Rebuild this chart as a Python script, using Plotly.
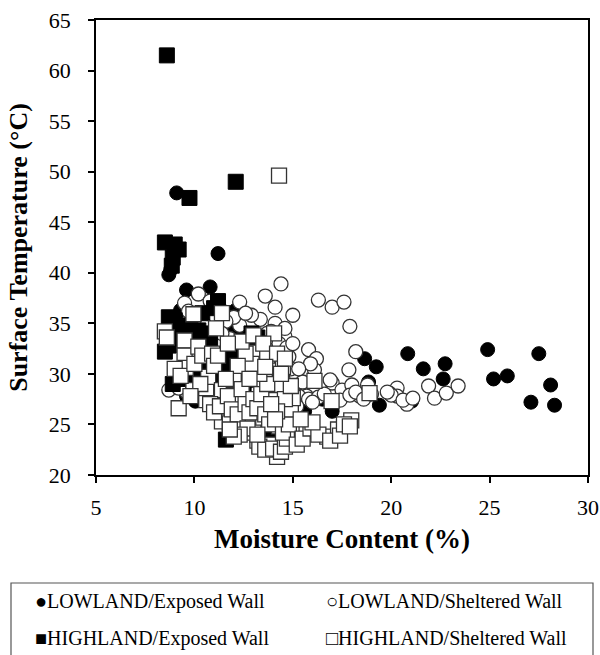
import plotly.graph_objects as go

# ---------------- data ----------------
low_exp_x = [9.1, 11.2, 8.7, 8.8, 9.6, 10.8, 9.3, 10.2, 11.6, 11.6,
             12.1, 12.3, 12.2, 11.9, 10.5, 9.0, 11.0, 11.7, 12.5, 13.0,
             9.8, 10.05, 9.6, 12.8, 13.5, 13.8, 14.4, 14.7, 14.8, 15.0,
             15.4, 13.4, 10.8, 11.3, 14.0, 15.6, 17.0, 16.5, 18.65, 18.85,
             19.24, 19.4, 20.84, 21.04, 21.63, 22.64, 22.74, 24.9, 25.2, 25.9,
             27.1, 27.5, 28.1, 28.3]
low_exp_y = [47.9, 41.9, 39.8, 40.3, 38.3, 38.6, 36.3, 36.0, 36.1, 34.5,
             36.3, 33.8, 34.8, 33.9, 35.2, 35.0, 31.0, 30.8, 31.0, 33.5,
             28.0, 27.3, 27.8, 28.5, 27.0, 29.0, 29.9, 30.5, 26.7, 26.6,
             26.2, 23.0, 29.5, 32.5, 32.0, 26.3, 26.3, 27.5, 31.5, 29.2,
             30.7, 26.9, 32.0, 27.3, 30.5, 29.5, 31.0, 32.4, 29.5, 29.8,
             27.2, 32.0, 28.9, 26.9]

low_she_x = [8.7, 9.5, 10.2, 10.8, 12.3, 13.6, 14.1, 14.4, 15.0, 13.35,
             12.3, 11.2, 10.9, 16.3, 17.0, 17.6, 17.9, 18.2, 15.8, 16.2,
             16.1, 17.85, 17.0, 17.5, 18.0, 20.3, 20.8, 21.9, 22.2, 22.8,
             23.4, 19.9, 20.3, 20.0, 19.8, 18.4, 15.7, 15.1, 14.8, 14.6,
             14.1, 13.0, 12.6, 13.7, 14.1, 13.9, 14.6, 14.3, 14.7, 14.9,
             14.5, 14.8, 15.3, 15.8, 16.3, 16.0, 17.4, 17.9, 18.2, 18.6,
             19.0, 16.6, 15.5, 15.9, 12.0, 11.6, 11.0, 10.5, 10.0, 9.7,
             10.3, 11.8, 12.7, 12.2, 11.5, 13.3, 13.0, 12.1, 10.6, 9.6,
             9.2, 13.6, 12.9, 13.7, 14.3, 15.2, 16.9, 20.6, 21.1, 18.8,
             11.4, 12.6, 14.2, 15.0, 15.3]
low_she_y = [28.4, 37.0, 37.9, 37.2, 37.1, 37.7, 36.6, 38.9, 35.8, 35.4,
             34.8, 32.9, 34.3, 37.3, 36.6, 37.1, 34.7, 32.2, 32.4, 31.5,
             30.4, 30.4, 29.1, 28.4, 28.9, 28.6, 27.0, 28.8, 27.6, 28.1,
             28.8, 28.1, 27.8, 27.9, 28.2, 27.8, 27.8, 28.8, 31.7, 33.7,
             32.4, 31.0, 29.4, 29.4, 35.0, 34.2, 34.5, 33.0, 32.6, 30.5,
             29.5, 28.5, 27.8, 27.5, 27.7, 27.2, 27.4, 27.9, 28.2, 27.5,
             28.0, 28.0, 29.2, 31.0, 35.6, 35.2, 35.8, 34.9, 35.4, 36.2,
             33.5, 33.5, 33.0, 32.0, 30.5, 30.0, 28.0, 27.5, 28.8, 28.2,
             28.6, 32.4, 35.8, 34.0, 30.2, 26.8, 29.4, 27.4, 27.6, 28.9,
             34.0, 36.0, 31.3, 33.0, 30.5]

high_exp_x = [8.6, 9.75, 12.1, 8.5, 9.0, 9.2, 8.9, 8.85, 11.2, 11.0,
              8.7, 9.0, 9.4, 9.8, 10.2, 10.5, 9.2, 8.5, 8.7, 9.6,
              10.0, 10.4, 9.8, 10.6, 8.9, 9.2, 9.9, 10.2, 11.5, 11.8,
              12.0, 11.2, 12.9, 13.2, 13.0, 11.6, 13.4, 10.0, 12.5, 13.8,
              9.5, 10.9, 12.2, 14.0, 13.2, 9.1, 8.8, 10.8, 12.1, 11.0,
              10.4, 12.4]
high_exp_y = [61.5, 47.4, 49.0, 43.0, 42.8, 42.3, 41.5, 40.7, 37.2, 36.5,
              35.6, 35.3, 34.8, 34.5, 34.3, 34.0, 33.5, 32.2, 32.8, 33.0,
              33.2, 32.0, 31.0, 31.5, 29.0, 29.5, 29.8, 30.5, 31.6, 30.8,
              31.0, 30.2, 34.0, 33.6, 32.5, 23.5, 33.0, 28.2, 28.5, 27.0,
              30.0, 30.0, 29.0, 24.0, 25.0, 34.0, 34.5, 33.5, 32.0, 29.0,
              36.0, 30.2]

high_she_x = [14.3, 8.5, 9.5, 9.5, 9.56, 9.2, 9.95, 10.2, 9.95, 10.6,
              10.6, 10.7, 11.4, 11.4, 11.4, 11.8, 12.0, 12.3, 12.5, 12.96,
              13.1, 13.2, 13.5, 13.7, 14.05, 14.5, 14.4, 14.05, 14.6, 13.9,
              14.2, 14.3, 15.7, 16.1, 16.75, 16.97, 17.3, 17.97, 18.9, 8.6,
              9.0, 9.3, 10.0, 10.4, 10.9, 11.0, 11.2, 10.8, 11.0, 11.3,
              11.7, 11.9, 12.2, 12.4, 12.6, 12.8, 13.0, 13.2, 13.4, 13.6,
              13.8, 13.0, 12.7, 12.3, 12.0, 11.8, 13.3, 13.6, 14.0, 14.4,
              14.6, 14.7, 14.5, 14.8, 14.9, 15.0, 14.6, 14.2, 13.9, 13.7,
              13.3, 12.9, 12.6, 12.4, 13.0, 13.5, 14.2, 14.6, 11.7, 11.1,
              12.2, 11.6, 10.3, 9.8, 15.2, 15.5, 15.9, 16.3, 16.9, 17.4,
              17.6, 17.9, 14.9, 14.4, 13.6, 12.8, 16.0, 15.4, 14.1, 13.2]
high_she_y = [49.6, 34.2, 33.3, 31.8, 30.6, 26.6, 35.9, 32.7, 28.4, 27.4,
              28.6, 29.7, 36.0, 28.4, 25.3, 25.1, 29.4, 27.3, 25.3, 25.3,
              32.1, 23.4, 25.3, 31.8, 34.0, 30.7, 28.9, 27.4, 26.1, 23.0,
              21.8, 24.8, 24.4, 29.3, 23.8, 27.3, 24.5, 25.4, 28.1, 33.6,
              30.5, 29.8, 31.0, 31.8, 32.0, 30.8, 31.8, 27.0, 26.2, 26.8,
              27.8, 26.5, 26.0, 28.5, 27.0, 26.2, 27.5, 26.6, 28.0, 26.0,
              25.0, 24.2, 24.6, 24.0, 23.8, 24.5, 22.8, 22.5, 22.6, 22.3,
              22.8, 23.6, 24.2, 25.0, 26.5, 27.6, 27.5, 26.3, 27.0, 29.0,
              30.0, 31.0, 32.0, 33.2, 33.8, 33.0, 32.0, 31.5, 33.0, 34.5,
              30.8, 29.5, 29.0, 27.8, 23.0, 23.6, 24.6, 24.0, 23.4, 23.9,
              25.0, 24.8, 28.8, 30.0, 30.7, 29.5, 25.2, 25.5, 25.5, 24.0]

legend_labels = ["\u25cfLOWLAND/Exposed Wall", "\u25cbLOWLAND/Sheltered Wall",
                 "\u25a0HIGHLAND/Exposed Wall", "\u25a1HIGHLAND/Sheltered Wall"]

x_ticks = [5, 10, 15, 20, 25, 30]
y_ticks = [20, 25, 30, 35, 40, 45, 50, 55, 60, 65]

# ---------------- figure ----------------
SERIF = "Liberation Serif"
OUTLINE = "#333333"

fig = go.Figure()
fig.add_trace(go.Scatter(x=low_exp_x, y=low_exp_y, mode="markers", name="LOWLAND/Exposed Wall",
                         marker=dict(symbol="circle", size=14, color="black",
                                     line=dict(color="black", width=1))))
fig.add_trace(go.Scatter(x=low_she_x, y=low_she_y, mode="markers", name="LOWLAND/Sheltered Wall",
                         marker=dict(symbol="circle", size=14, color="white",
                                     line=dict(color=OUTLINE, width=1.3))))
fig.add_trace(go.Scatter(x=high_exp_x, y=high_exp_y, mode="markers", name="HIGHLAND/Exposed Wall",
                         marker=dict(symbol="square", size=15, color="black",
                                     line=dict(color="black", width=1))))
fig.add_trace(go.Scatter(x=high_she_x, y=high_she_y, mode="markers", name="HIGHLAND/Sheltered Wall",
                         marker=dict(symbol="square", size=15, color="white",
                                     line=dict(color=OUTLINE, width=1.3))))

L, R, T, B = 96, 12, 20, 180
W, H = 600, 655
PW, PH = W - L - R, H - T - B


def px_to_paper(px, py):
    return (px - L) / PW, (H - B - py) / PH


axis_common = dict(showline=True, linecolor="black", linewidth=1.5, mirror=True,
                   ticks="outside", ticklen=6, tickwidth=1.5, tickcolor="black",
                   showgrid=False, zeroline=False, automargin=False,
                   tickfont=dict(family=SERIF, size=22, color="black"))

fig.update_layout(
    width=W, height=H,
    margin=dict(l=L, r=R, t=T, b=B, autoexpand=False),
    plot_bgcolor="white", paper_bgcolor="white",
    showlegend=False,
    font=dict(family=SERIF, color="black"),
    xaxis=dict(range=[5, 30], tickvals=x_ticks, ticklabelstandoff=6,
               title=dict(text="Moisture Content (%)", standoff=10,
                          font=dict(family=SERIF, size=27, color="black", weight="bold")),
               **axis_common),
    yaxis=dict(range=[20, 65], tickvals=y_ticks, ticklabelstandoff=13,
               title=dict(text="Surface Temperature (\u00b0C)", standoff=14,
                          font=dict(family=SERIF, size=26, color="black", weight="bold")),
               **axis_common),
)

# legend box
bx0, by0 = px_to_paper(11, 583)
bx1, by1 = px_to_paper(593, 662)
fig.add_shape(type="rect", xref="paper", yref="paper", x0=bx0, x1=bx1, y0=by0, y1=by1,
              line=dict(color="#555555", width=1.2), fillcolor="rgba(0,0,0,0)", layer="above")

positions = [(33, 601), (324, 601), (33, 638), (324, 638)]
for label, (px, py) in zip(legend_labels, positions):
    ax, ay = px_to_paper(px, py)
    fig.add_annotation(x=ax, y=ay, xref="paper", yref="paper", text=label, showarrow=False,
                       xanchor="left", yanchor="middle",
                       font=dict(family=SERIF, size=20, color="black"))

fig.write_html("out.html")
